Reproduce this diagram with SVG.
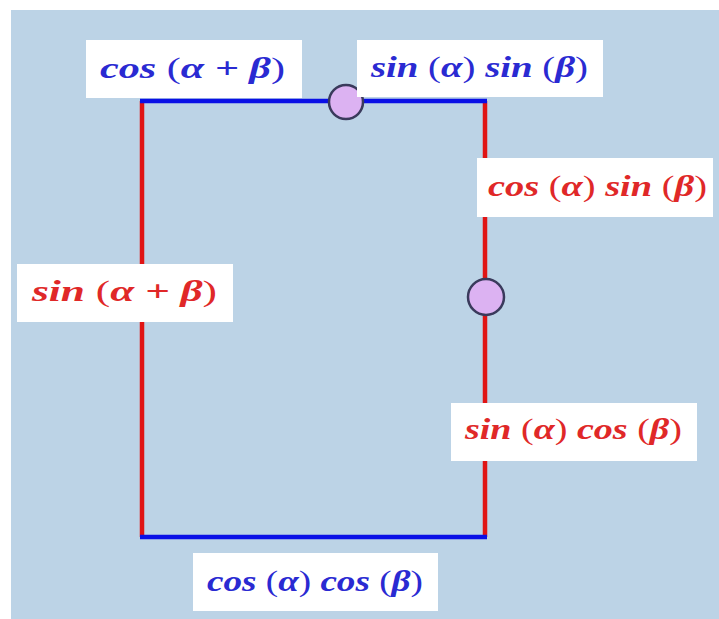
<svg xmlns="http://www.w3.org/2000/svg" width="719" height="619" viewBox="0 0 719 619">
<style>
.box{fill:#ffffff}
.lbl{font-family:"Liberation Serif","DejaVu Serif",serif;font-size:30px;font-weight:bold;font-style:italic}
.up{font-style:normal;font-weight:normal}
.b{fill:#2a2ad2}
.r{fill:#e02828}
.lb{stroke:#0a10e6;stroke-width:4.5;fill:none}
.lr{stroke:#e01414;stroke-width:4.5;fill:none}
.pt{fill:#dcb2f2;stroke:#3a3a5c;stroke-width:2.5}
</style>
<rect x="0" y="0" width="719" height="619" fill="#ffffff"/>
<rect x="11" y="10" width="708" height="609" fill="#bcd3e6"/>
<g id="connectors">
<line class="lr" x1="142" y1="101" x2="142" y2="537"/>
<line class="lr" x1="485" y1="101" x2="485" y2="537"/>
<line class="lb" x1="140" y1="101" x2="487" y2="101"/>
<line class="lb" x1="140" y1="537" x2="487" y2="537"/>
</g>
<g id="label-cos-sum">
<rect class="box" x="86" y="40" width="216" height="58"/>
<text class="lbl b" x="100" y="78" textLength="185" lengthAdjust="spacingAndGlyphs">cos <tspan class="up">(</tspan>α + β<tspan class="up">)</tspan></text>
</g>
<g id="point-top">
<circle class="pt" cx="346" cy="102" r="17"/>
</g>
<g id="label-sin-sin">
<rect class="box" x="357" y="40" width="246" height="57"/>
<text class="lbl b" x="371" y="77" textLength="217" lengthAdjust="spacingAndGlyphs">sin <tspan class="up">(</tspan>α<tspan class="up">)</tspan> sin <tspan class="up">(</tspan>β<tspan class="up">)</tspan></text>
</g>
<g id="label-cos-sin">
<rect class="box" x="477" y="158" width="236" height="59"/>
<text class="lbl r" x="488" y="196" textLength="219" lengthAdjust="spacingAndGlyphs">cos <tspan class="up">(</tspan>α<tspan class="up">)</tspan> sin <tspan class="up">(</tspan>β<tspan class="up">)</tspan></text>
</g>
<g id="label-sin-sum">
<rect class="box" x="17" y="264" width="216" height="58"/>
<text class="lbl r" x="32" y="301" textLength="185" lengthAdjust="spacingAndGlyphs">sin <tspan class="up">(</tspan>α + β<tspan class="up">)</tspan></text>
</g>
<g id="point-right">
<circle class="pt" cx="486" cy="297" r="18"/>
</g>
<g id="label-sin-cos">
<rect class="box" x="451" y="403" width="246" height="58"/>
<text class="lbl r" x="465" y="439" textLength="217" lengthAdjust="spacingAndGlyphs">sin <tspan class="up">(</tspan>α<tspan class="up">)</tspan> cos <tspan class="up">(</tspan>β<tspan class="up">)</tspan></text>
</g>
<g id="label-cos-cos">
<rect class="box" x="193" y="553" width="245" height="58"/>
<text class="lbl b" x="207" y="591" textLength="216" lengthAdjust="spacingAndGlyphs">cos <tspan class="up">(</tspan>α<tspan class="up">)</tspan> cos <tspan class="up">(</tspan>β<tspan class="up">)</tspan></text>
</g>
</svg>
